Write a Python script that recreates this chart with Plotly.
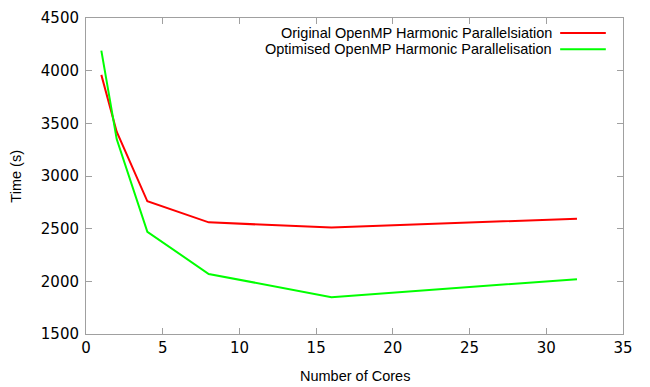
import plotly.graph_objects as go

cores = [1, 2, 4, 8, 16, 32]
original = [3960, 3420, 2760, 2560, 2510, 2595]
optimised = [4190, 3350, 2470, 2070, 1850, 2020]
names = ["Original OpenMP Harmonic Parallelsiation", "Optimised OpenMP Harmonic Parallelisation"]
colors = ["#ff0000", "#00ff00"]
xtitle = "Number of Cores"
ytitle = "Time (s)"

fig = go.Figure()
for ys, nm, c in zip([original, optimised], names, colors):
    fig.add_trace(go.Scatter(x=cores, y=ys, mode="lines", name=nm,
                             line=dict(color=c, width=2), showlegend=False))

axcommon = dict(showgrid=False, zeroline=False, showline=True, linecolor="#a0a0a0",
                linewidth=1, mirror="ticks", ticks="inside", ticklen=6, tickcolor="#a0a0a0",
                automargin=False,
                tickfont=dict(family="DejaVu Sans", size=15, color="#000000"))
titlefont = dict(family="Liberation Sans", size=14.5, color="#000")
fig.update_xaxes(range=[0, 35], dtick=5, **axcommon)
fig.update_yaxes(range=[1500, 4500], dtick=500, ticklabelstandoff=3, **axcommon)

# axis titles
fig.add_annotation(xref="paper", yref="paper", x=0.5, y=-0.133, yanchor="middle", text=xtitle,
                   showarrow=False, font=titlefont)
fig.add_annotation(xref="paper", yref="paper", x=-0.131, y=0.5, xanchor="center", text=ytitle,
                   textangle=-90, showarrow=False, font=titlefont)

# legend (text right-aligned, sample on the right, gnuplot style)
for i, (nm, c) in enumerate(zip(names, colors)):
    yp = 0.9525 - i * 0.051
    fig.add_annotation(xref="paper", yref="paper", x=0.872, y=yp, text=nm, showarrow=False,
                       xanchor="right", yanchor="middle",
                       font=dict(family="Liberation Sans", size=14.5, color="#000"))
    fig.add_shape(type="line", xref="paper", yref="paper", x0=0.883, x1=0.968, y0=yp, y1=yp,
                  line=dict(color=c, width=2))

fig.update_layout(width=650, height=387, margin=dict(l=78, r=35, t=10, b=61),
                  plot_bgcolor="white", paper_bgcolor="white")
fig.write_html("out.html")
